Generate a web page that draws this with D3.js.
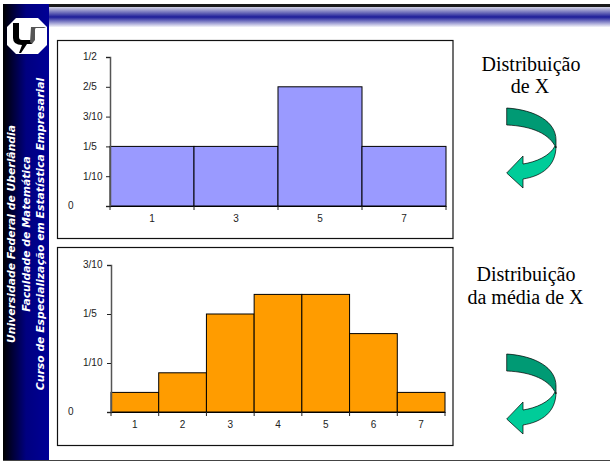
<!DOCTYPE html>
<html>
<head>
<meta charset="utf-8">
<script src="https://cdn.jsdelivr.net/npm/d3@7"></script>
<style>
  html, body { margin: 0; padding: 0; background: #fff; }
  svg { display: block; }
  .axis text { font-family: "Liberation Sans", Arial, sans-serif; font-size: 10px; fill: #222; }
  .side { font-family: "DejaVu Sans", sans-serif; font-size: 10.8px; font-weight: bold; font-style: italic; fill: #fff; text-anchor: middle; }
  .label { font-family: "Liberation Serif", serif; font-size: 20px; fill: #000; text-anchor: middle; }
</style>
</head>
<body>
<div class="canvas"></div>
<script>
const xCats = ["1", "3", "5", "7"];
const xValues = [0.2, 0.2, 0.4, 0.2];
const xTickValues = [0, 0.1, 0.2, 0.3, 0.4, 0.5];
const xTickLabels = ["0", "1/10", "1/5", "3/10", "2/5", "1/2"];

const meanCats = ["1", "2", "3", "4", "5", "6", "7"];
const meanValues = [0.04, 0.08, 0.2, 0.24, 0.24, 0.16, 0.04];
const meanTickValues = [0, 0.1, 0.2, 0.3];
const meanTickLabels = ["0", "1/10", "1/5", "3/10"];

const sideLines = [
  "Universidade Federal de Uberlândia",
  "Faculdade de Matemática",
  "Curso de Especialização em Estatística Empresarial",
];

const svg = d3.select(".canvas").append("svg").attr("width", 610).attr("height", 461);
const defs = svg.append("defs");

const sideGrad = defs.append("linearGradient").attr("id", "sideGrad");
sideGrad.append("stop").attr("offset", "0").attr("stop-color", "#000");
sideGrad.append("stop").attr("offset", "0.5").attr("stop-color", "#000080");
sideGrad.append("stop").attr("offset", "1").attr("stop-color", "#000096");

const topGrad = defs.append("linearGradient").attr("id", "topGrad").attr("x2", 0).attr("y2", 1);
topGrad.append("stop").attr("offset", "0").attr("stop-color", "#d4d4e4");
topGrad.append("stop").attr("offset", "0.5").attr("stop-color", "#1c1c98");
topGrad.append("stop").attr("offset", "1").attr("stop-color", "#f4f4fa");

// page furniture
svg.append("rect").attr("x", 3).attr("y", 4).attr("width", 607).attr("height", 3).attr("fill", "#1a1a1a");
svg.append("rect").attr("x", 49).attr("y", 7).attr("width", 561).attr("height", 20).attr("fill", "url(#topGrad)");
svg.append("rect").attr("x", 3).attr("y", 4).attr("width", 46).attr("height", 456).attr("fill", "url(#sideGrad)");
svg.append("rect").attr("x", 3).attr("y", 460).attr("width", 607).attr("height", 1).attr("fill", "#444");

// logo
const logo = svg.append("g").attr("transform", "translate(7,18)");
logo.append("path").attr("d", "M9,0 H31 L40,9 V27 L31,36 H9 L0,27 V9 Z").attr("fill", "#fff");
logo.append("path").attr("d", "M6,5 H12 V19 Q12,22 15,22 H25 L25,26 L20,26 L14,35 L12,35 L15,27 Q6,27 6,20 Z").attr("fill", "#000");
logo.append("path").attr("d", "M24,9 H37 L39,10 H29 Q28,10 28,12 V22 L25,26 L23,24 Z").attr("fill", "#555");

svg.append("g")
  .selectAll("text").data(sideLines).enter().append("text")
  .attr("class", "side")
  .attr("transform", (d, i) => `translate(${15 + i * 14.5},234) rotate(-90)`)
  .text((d) => d);

function drawChart(opts) {
  const frame = svg.append("g");
  frame.append("rect")
    .attr("x", opts.frame[0]).attr("y", opts.frame[1])
    .attr("width", opts.frame[2]).attr("height", opts.frame[3])
    .attr("fill", "#fff").attr("stroke", "#111").attr("stroke-width", 1.2);

  const x = d3.scaleBand().domain(opts.cats).range(opts.xRange);
  const y = d3.scaleLinear().domain([0, opts.yMax]).range(opts.yRange);

  frame.selectAll(".bar").data(opts.values).enter().append("rect")
    .attr("class", "bar")
    .attr("x", (d, i) => x(opts.cats[i]))
    .attr("y", (d) => y(d))
    .attr("width", x.bandwidth())
    .attr("height", (d) => y(0) - y(d))
    .attr("fill", opts.color)
    .attr("stroke", "#000")
    .attr("stroke-width", 1);

  const yAxis = d3.axisLeft(y)
    .tickValues(opts.tickValues)
    .tickFormat((d, i) => opts.tickLabels[i])
    .tickSize(4);
  const yg = frame.append("g").attr("class", "axis").attr("transform", `translate(${opts.xRange[0]},0)`).call(yAxis);
  yg.select(".domain").attr("stroke", "#555").attr("stroke-width", 1.5);
  yg.selectAll(".tick line").attr("stroke", "#222");
  // fraction labels line up on their left edge, the zero sits further out
  yg.selectAll(".tick text")
    .attr("text-anchor", "start")
    .attr("dy", "0.28em")
    .attr("x", (d) => (d === 0 ? 68 : 83) - opts.xRange[0]);

  const xAxis = d3.axisBottom(x).tickSize(0).tickPadding(9);
  const xg = frame.append("g").attr("class", "axis").attr("transform", `translate(0,${opts.yRange[0]})`).call(xAxis);
  xg.select(".domain").attr("stroke", "#000");
  // ticks sit between the categories, like a spreadsheet chart
  xg.selectAll(".edge").data(d3.range(opts.cats.length + 1)).enter().append("line")
    .attr("class", "edge")
    .attr("x1", (d) => opts.xRange[0] + d * x.bandwidth())
    .attr("x2", (d) => opts.xRange[0] + d * x.bandwidth())
    .attr("y1", 0).attr("y2", 4)
    .attr("stroke", "#222");
}

drawChart({
  frame: [57.5, 40.5, 395.5, 198],
  cats: xCats, values: xValues, tickValues: xTickValues, tickLabels: xTickLabels,
  yMax: 0.5, xRange: [110, 446], yRange: [206, 57], color: "#9a9aff",
});
drawChart({
  frame: [57.5, 247.5, 395.5, 198],
  cats: meanCats, values: meanValues, tickValues: meanTickValues, tickLabels: meanTickLabels,
  yMax: 0.3, xRange: [111, 445], yRange: [412, 265], color: "#ff9c00",
});

// captions
const captions = [
  { x: 531, y: 71, t: "Distribuição" },
  { x: 530, y: 93, t: "de X" },
  { x: 526, y: 281, t: "Distribuição" },
  { x: 525.5, y: 304, t: "da média de X" },
];
svg.selectAll(".label").data(captions).enter().append("text")
  .attr("class", "label").attr("x", (d) => d.x).attr("y", (d) => d.y).text((d) => d.t);

// curved arrows
function arrow(y0) {
  const g = svg.append("g").attr("transform", `translate(506,${y0})`).attr("stroke", "#000").attr("stroke-width", 0.7);
  g.append("path").attr("fill", "#00cc99")
    .attr("d", "M49,38 C44,48 30,54 17,56 L17,48 L0.7,65 L17,80 L17,71 C36,68 50,58 50,38 Z");
  g.append("path").attr("fill", "#009a74")
    .attr("d", "M0.7,0 C30,2 50,14 50,32 L50,40 C44,26 26,18 0.7,17 Z");
}
arrow(108);
arrow(354);
</script>
</body>
</html>
